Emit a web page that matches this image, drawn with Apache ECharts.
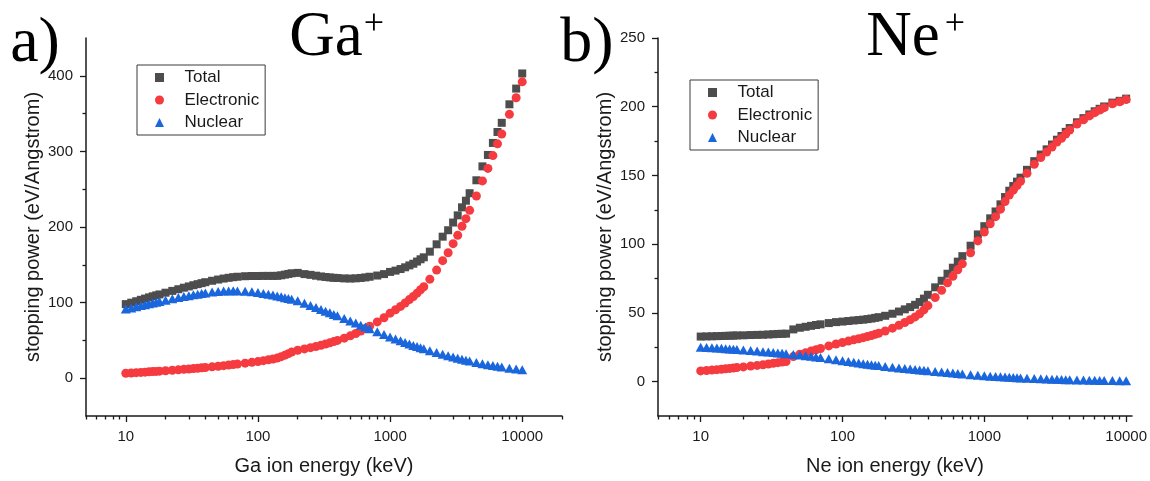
<!DOCTYPE html>
<html>
<head>
<meta charset="utf-8">
<script src="https://cdn.jsdelivr.net/npm/echarts@6/dist/echarts.min.js"></script>
<style>
html,body{margin:0;padding:0;background:#fff;}
#chart{width:1150px;height:481px;}
</style>
</head>
<body>
<div id="chart"></div>
<script>
// Ion energy (keV)
const energy = [10,11,12,13,14,15,16,17,18,20,22.5,25,27.5,30,32.5,35,37.5,40,45,50,55,60,65,70,80,90,100,110,120,130,140,150,160,170,180,200,225,250,275,300,325,350,375,400,450,500,550,600,650,700,800,900,1000,1100,1200,1300,1400,1500,1600,1700,1800,2000,2250,2500,2750,3000,3250,3500,3750,4000,4500,5000,5500,6000,6500,7000,8000,9000,10000];

// Ga+ stopping power (eV/Angstrom)
const gaTotal = [98.0,99.9,101.8,103.7,105.3,106.9,108.3,109.6,110.8,113.1,
  115.5,117.7,119.7,121.4,123.0,124.4,125.7,127.0,
  128.9,130.5,131.8,132.8,133.6,134.2,
  134.9,135.2,
  135.2,135.3,135.3,135.3,135.4,136.1,137.0,137.9,138.8,
  139.3,137.7,136.7,135.6,134.6,133.9,133.3,132.8,
  132.5,132.0,131.8,132.1,132.6,133.3,134.2,
  135.8,137.7,
  140.6,142.3,144.4,146.7,149.2,151.4,154.3,157.3,159.9,
  167.4,177.1,187.2,195.7,205.9,215.4,226.0,234.8,
  244.7,261.8,280.2,295.3,311.2,325.7,337.8,
  362.3,383.1,403.1];
const gaElec = [6.5,6.9,7.3,7.7,8.0,8.4,8.7,9.0,9.3,9.9,
  10.5,11.1,11.7,12.2,12.7,13.2,13.7,14.2,
  15.0,15.8,16.6,17.3,18.0,18.7,
  19.9,21.0,
  22.0,23.2,24.3,25.4,26.6,28.5,30.5,32.5,34.5,
  37.0,38.7,40.4,42.0,43.6,45.2,46.8,48.4,
  50.0,53.0,56.0,59.2,62.4,65.6,68.8,
  74.5,80.0,
  86.0,90.5,95.0,99.5,104.0,108.0,112.5,117.0,121.0,
  131.0,143.0,155.5,166.0,178.0,189.0,201.0,211.0,
  222.0,241.0,261.0,277.5,294.5,310.0,323.0,
  349.0,371.0,392.0];
const gaNuc = [91.5,93.0,94.5,96.0,97.3,98.5,99.6,100.6,101.5,103.2,
  105.0,106.6,108.0,109.2,110.3,111.2,112.0,112.8,
  113.9,114.7,115.2,115.5,115.6,115.5,
  115.0,114.2,
  113.2,112.1,111.0,109.9,108.8,107.6,106.5,105.4,104.3,
  102.3,99.0,96.3,93.6,91.0,88.7,86.5,84.4,
  82.5,79.0,75.8,72.9,70.2,67.7,65.4,
  61.3,57.7,
  54.6,51.8,49.4,47.2,45.2,43.4,41.8,40.3,38.9,
  36.4,34.1,31.7,29.7,27.9,26.4,25.0,23.8,
  22.7,20.8,19.2,17.8,16.7,15.7,14.8,
  13.3,12.1,11.1];

// Ne+ stopping power (eV/Angstrom)
const neTotal = [32.8,32.9,33.0,33.1,33.2,33.3,33.4,33.5,33.6,33.7,
  33.9,34.0,34.1,34.3,34.5,34.7,34.8,34.9,
  38.0,39.2,39.9,40.6,41.2,41.7,
  42.6,43.3,
  43.7,44.1,44.5,44.8,45.1,45.5,45.9,46.4,46.9,
  47.9,49.4,51.0,52.6,54.2,55.9,57.9,60.4,
  63.2,68.6,73.4,78.5,82.9,87.3,91.3,
  98.9,107.1,
  113.1,118.8,123.8,129.0,134.3,138.9,142.3,145.5,148.4,
  154.1,160.4,165.2,169.0,172.5,176.0,178.7,181.7,
  184.5,188.7,191.7,194.4,196.7,198.5,200.2,
  203.0,204.3,205.9];
const neElec = [7.8,8.1,8.4,8.7,9.0,9.3,9.6,9.9,10.2,10.7,
  11.3,11.8,12.3,12.8,13.3,13.8,14.2,14.6,
  18.2,19.9,21.1,22.2,23.2,24.1,
  26.0,27.4,
  28.5,29.5,30.4,31.2,32.0,32.8,33.6,34.4,35.2,
  36.8,38.9,41.0,43.0,45.0,47.1,49.4,52.2,
  55.3,61.2,66.4,71.9,76.7,81.4,85.7,
  93.8,102.4,
  108.8,114.8,120.0,125.5,131.0,135.7,139.3,142.6,145.7,
  151.6,158.1,163.1,167.1,170.7,174.3,177.1,180.2,
  183.1,187.4,190.5,193.3,195.7,197.6,199.3,
  202.2,203.6,205.2];
const neNuc = [25.0,24.8,24.6,24.4,24.2,24.0,23.8,23.6,23.4,23.0,
  22.6,22.2,21.8,21.5,21.2,20.9,20.6,20.3,
  19.8,19.3,18.8,18.4,18.0,17.6,
  16.6,15.9,
  15.2,14.6,14.1,13.6,13.1,12.7,12.3,12.0,11.7,
  11.1,10.5,10.0,9.6,9.2,8.8,8.5,8.2,
  7.9,7.4,7.0,6.6,6.2,5.9,5.6,
  5.1,4.7,
  4.3,4.0,3.75,3.5,3.3,3.15,3.0,2.85,2.7,
  2.5,2.25,2.05,1.9,1.75,1.65,1.55,1.45,
  1.4,1.25,1.15,1.05,1.0,0.9,0.85,
  0.8,0.7,0.65];

// Tick values
const xMajorTicks = [10, 100, 1000, 10000];
const xMinorTicksGa = [5,6,7,8,9,20,30,40,50,60,70,80,90,200,300,400,500,600,700,800,900,2000,3000,4000,5000,6000,7000,8000,9000,20000];
const xMinorTicksNe = [5,6,7,8,9,20,30,40,50,60,70,80,90,200,300,400,500,600,700,800,900,2000,3000,4000,5000,6000,7000,8000,9000];
const gaYMajor = [0, 100, 200, 300, 400];
const gaYMinor = [50, 150, 250, 350];
const neYMajor = [0, 50, 100, 150, 200, 250];
const neYMinor = [25, 75, 125, 175, 225];

const seriesNames = ['Total', 'Electronic', 'Nuclear'];
const colors = ['#4d4d4d', '#f53b3f', '#1a66dc'];
const symbols = ['rect', 'circle', 'triangle'];
const symbolSizes = [8, 9, [10, 9]];

const SANS = '"Liberation Sans", Arial, sans-serif';
const SERIF = '"Liberation Serif", "Times New Roman", serif';
const AXIS_COLOR = '#1a1a1a';

function pair(arr) { return energy.map((e, i) => [e, arr[i]]); }

function xAxes(gridIndex, max, minor, name) {
  return [{
    type: 'log', logBase: 10, gridIndex, min: 5, max, position: 'bottom',
    name, nameLocation: 'middle', nameGap: 40,
    nameTextStyle: { fontFamily: SANS, fontSize: 20, color: AXIS_COLOR },
    axisLine: { onZero: false, lineStyle: { color: AXIS_COLOR, width: 1.5 } },
    axisTick: { inside: false, length: 6, customValues: xMajorTicks, lineStyle: { color: AXIS_COLOR, width: 1.3 } },
    axisLabel: { customValues: xMajorTicks, margin: 13, fontFamily: SANS, fontSize: 15, color: AXIS_COLOR,
      formatter: v => String(Math.round(v)) },
    splitLine: { show: false }, minorTick: { show: false }
  }, {
    type: 'log', logBase: 10, gridIndex, min: 5, max, position: 'bottom',
    axisLine: { show: false, onZero: false },
    axisTick: { inside: false, length: 3.5, customValues: minor, lineStyle: { color: AXIS_COLOR, width: 1.3 } },
    axisLabel: { show: false },
    splitLine: { show: false }
  }];
}

function yAxes(gridIndex, min, max, major, minorVals) {
  return [{
    type: 'value', gridIndex, min, max, position: 'left',
    name: 'stopping power (eV/Angstrom)', nameLocation: 'middle', nameGap: 43,
    nameTextStyle: { fontFamily: SANS, fontSize: 20, color: AXIS_COLOR },
    axisLine: { show: true, onZero: false, lineStyle: { color: AXIS_COLOR, width: 1.5 } },
    axisTick: { show: true, inside: false, length: 6, customValues: major, lineStyle: { color: AXIS_COLOR, width: 1.3 } },
    axisLabel: { customValues: major, margin: 13, fontFamily: SANS, fontSize: 15, color: AXIS_COLOR },
    splitLine: { show: false }
  }, {
    type: 'value', gridIndex, min, max, position: 'left',
    axisLine: { show: false, onZero: false },
    axisTick: { show: true, inside: false, length: 3.5, customValues: minorVals, lineStyle: { color: AXIS_COLOR, width: 1.3 } },
    axisLabel: { show: false },
    splitLine: { show: false }
  }];
}

function makeSeries(arrs, xIdx, yIdx) {
  return arrs.map((arr, k) => ({
    name: seriesNames[k], type: 'scatter', xAxisIndex: xIdx, yAxisIndex: yIdx,
    symbol: symbols[k], symbolSize: symbolSizes[k],
    itemStyle: { color: colors[k], opacity: 1 },
    data: pair(arr), z: 2 + k, silent: true
  }));
}

function legend(id, left, top) {
  return {
    id, left, top, orient: 'vertical', selectedMode: false,
    backgroundColor: '#fff', borderColor: '#3a3a3a', borderWidth: 1, borderRadius: 0,
    padding: [4, 6, 4, 18], itemGap: 5.5, itemWidth: 9, itemHeight: 9,
    textStyle: { fontFamily: SANS, fontSize: 17, color: AXIS_COLOR, padding: [0, 0, 0, 15.5] },
    data: seriesNames.map((n, k) => ({ name: n, icon: symbols[k] }))
  };
}

const chart = echarts.init(document.getElementById('chart'), null, { renderer: 'canvas' });
const option = {
  animation: false,
  backgroundColor: '#fff',
  grid: [
    { left: 86, top: 38, width: 476, height: 383.7, containLabel: false },
    { left: 658, top: 38, width: 475, height: 383.7, containLabel: false }
  ],
  xAxis: [...xAxes(0, 20000, xMinorTicksGa, 'Ga ion energy (keV)'), ...xAxes(1, 11000, xMinorTicksNe, 'Ne ion energy (keV)')],
  yAxis: [...yAxes(0, -50, 450, gaYMajor, gaYMinor), ...yAxes(1, -25, 250, neYMajor, neYMinor)],
  legend: [legend('lgA', 137, 65), legend('lgB', 690, 80)],
  series: [
    ...makeSeries([gaTotal, gaElec, gaNuc], 0, 0),
    ...makeSeries([neTotal, neElec, neNuc], 2, 2)
  ],
  graphic: [
    { type: 'text', x: 35, y: 44, style: { text: 'a)', font: '64px ' + SERIF, fill: '#000', textAlign: 'center', textVerticalAlign: 'middle' } },
    { type: 'text', x: 326, y: 38, style: { text: 'Ga', font: '63px ' + SERIF, fill: '#000', textAlign: 'center', textVerticalAlign: 'middle' } },
    { type: 'text', x: 374, y: 25, style: { text: '+', font: '36px ' + SERIF, fill: '#000', textAlign: 'center', textVerticalAlign: 'middle' } },
    { type: 'text', x: 587, y: 44, style: { text: 'b)', font: '64px ' + SERIF, fill: '#000', textAlign: 'center', textVerticalAlign: 'middle' } },
    { type: 'text', x: 903, y: 38, style: { text: 'Ne', font: '63px ' + SERIF, fill: '#000', textAlign: 'center', textVerticalAlign: 'middle' } },
    { type: 'text', x: 955, y: 25, style: { text: '+', font: '36px ' + SERIF, fill: '#000', textAlign: 'center', textVerticalAlign: 'middle' } }
  ]
};
chart.setOption(option);
</script>
</body>
</html>
